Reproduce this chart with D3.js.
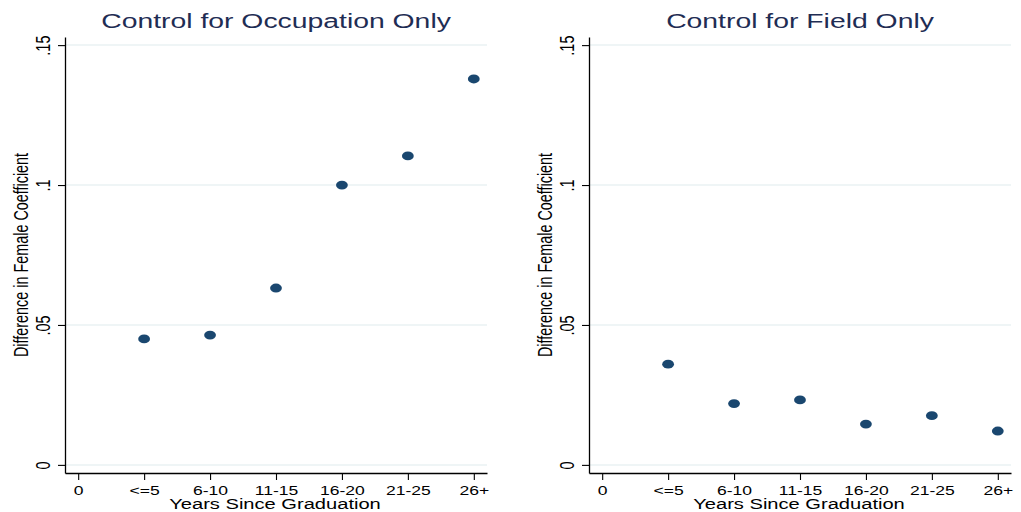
<!DOCTYPE html>
<html>
<head>
<meta charset="utf-8">
<script src="https://cdn.jsdelivr.net/npm/d3@7"></script>
<style>
  body { margin: 0; background: #fff; }
  svg { display: block; font-family: "Liberation Sans", Arial, sans-serif; }
</style>
</head>
<body>
<svg id="chart" width="1021" height="512"></svg>
<script>
// tick labels on the x axis (position 0 is an empty slot)
var categories = ["0", "<=5", "6-10", "11-15", "16-20", "21-25", "26+"];
var yTicks = [0, 0.05, 0.1, 0.15];
var yTickLabels = ["0", ".05", ".1", ".15"];

// difference in female coefficient, one value per group (<=5 .. 26+)
var occupation = [0.0450, 0.0464, 0.0632, 0.1000, 0.1104, 0.1379];
var field = [0.0360, 0.0219, 0.0232, 0.0146, 0.0176, 0.0121];

var panels = [
  {title: "Control for Occupation Only", values: occupation, x0: 65, x1: 487},
  {title: "Control for Field Only", values: field, x0: 589, x1: 1011}
];

var SX = 1.35; // picture is stretched horizontally
var navy = "#1a476f";

var svg = d3.select("#chart");

var y = d3.scaleLinear().domain([-0.0029, 0.1529]).range([473, 37]);

panels.forEach(function(p) {
  var x = d3.scaleLinear().domain([-0.2, 6.2]).range([p.x0, p.x1]);
  var g = svg.append("g");

  // grid
  g.selectAll("line.grid").data(yTicks).enter().append("line")
    .attr("class", "grid")
    .attr("x1", p.x0).attr("x2", p.x1)
    .attr("y1", function(d) { return y(d); })
    .attr("y2", function(d) { return y(d); })
    .attr("stroke", "#eaf2f3").attr("stroke-width", 1.5);

  // y axis
  var ya = g.append("g")
    .attr("transform", "translate(" + p.x0 + ",0)")
    .call(d3.axisLeft(y).tickValues(yTicks).tickSize(7).tickSizeOuter(0)
      .tickFormat(function(d, i) { return yTickLabels[i]; }));
  ya.selectAll("text")
    .attr("x", null).attr("dy", null).attr("fill", "#000")
    .attr("font-size", 14.5)
    .attr("text-anchor", "middle")
    .attr("transform", "translate(-15,0) scale(" + SX + ",1) rotate(-90)");

  // x axis
  var xa = g.append("g")
    .attr("transform", "translate(0,473)")
    .call(d3.axisBottom(x).tickValues(d3.range(categories.length)).tickSize(7).tickSizeOuter(0)
      .tickFormat(function(d) { return categories[d]; }));
  xa.selectAll("text")
    .attr("y", null).attr("dy", null).attr("fill", "#000")
    .attr("font-size", 13)
    .attr("text-anchor", "middle")
    .attr("transform", "translate(0,22) scale(" + SX + ",1)");

  [ya, xa].forEach(function(a) {
    a.attr("font-family", null);
    a.select(".domain").attr("stroke", "#000").attr("stroke-width", 1.3);
    a.selectAll(".tick line").attr("stroke", "#000").attr("stroke-width", 1.1);
  });

  // points
  g.selectAll("ellipse").data(p.values).enter().append("ellipse")
    .attr("cx", function(d, i) { return x(i + 1); })
    .attr("cy", function(d) { return y(d); })
    .attr("rx", 5.9).attr("ry", 4.4)
    .attr("fill", navy);

  var cx = (p.x0 + p.x1) / 2;

  // titles
  g.append("text")
    .attr("transform", "translate(" + cx + ",28) scale(" + SX + ",1)")
    .attr("text-anchor", "middle").attr("font-size", 21)
    .attr("fill", "#1f2d54")
    .text(p.title);

  g.append("text")
    .attr("transform", "translate(" + (cx - 1) + ",509) scale(" + SX + ",1)")
    .attr("text-anchor", "middle").attr("font-size", 14.9)
    .attr("fill", "#000")
    .text("Years Since Graduation");

  g.append("text")
    .attr("transform", "translate(" + (p.x0 - 37) + "," + y(0.075) + ") scale(" + SX + ",1) rotate(-90)")
    .attr("text-anchor", "middle").attr("font-size", 14.4)
    .attr("fill", "#000")
    .text("Difference in Female Coefficient");
});
</script>
</body>
</html>
